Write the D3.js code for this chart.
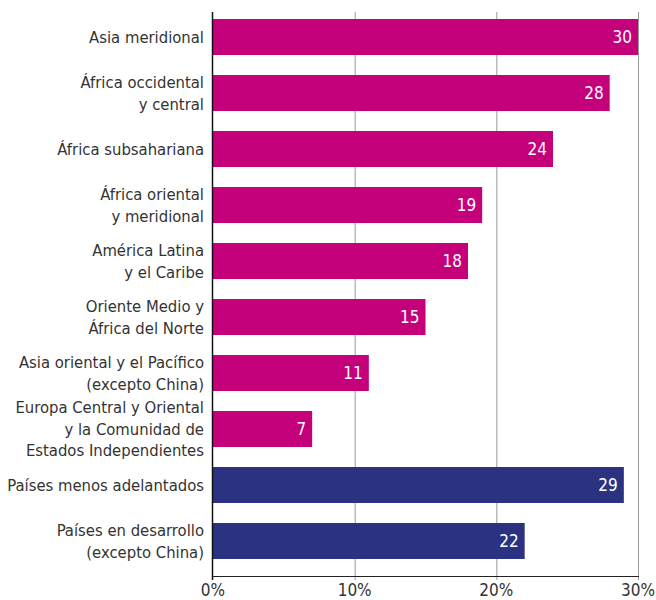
<!DOCTYPE html>
<html>
<head>
<meta charset="utf-8">
<script src="https://cdn.jsdelivr.net/npm/d3@7"></script>
<style>
body { margin: 0; background: #fff; }
text { font-family: "Liberation Sans Narrow", "DejaVu Sans Condensed", "Roboto", sans-serif; }
</style>
</head>
<body>
<svg id="chart" width="656" height="600"></svg>
<script>
var svg_w = 656;
var svg_h = 600;

// categories (lines of each label), values, and which are aggregates
var categories = [
    ["Asia meridional"],
    ["África occidental", "y central"],
    ["África subsahariana"],
    ["África oriental", "y meridional"],
    ["América Latina", "y el Caribe"],
    ["Oriente Medio y", "África del Norte"],
    ["Asia oriental y el Pacífico", "(excepto China)"],
    ["Europa Central y Oriental", "y la Comunidad de", "Estados Independientes"],
    ["Países menos adelantados"],
    ["Países en desarrollo", "(excepto China)"]
];
var values = [30, 28, 24, 19, 18, 15, 11, 7, 29, 22];
var groups = ["region", "region", "region", "region", "region", "region", "region", "region", "total", "total"];
var xTicks = [0, 10, 20, 30];

var colors = { region: "#c4007a", total: "#2b3282" };

function draw() {
    let svg = d3.select('#chart');
    let left = 213, right = 638, top = 12, bottom = 576;

    let x = d3.scaleLinear()
        .domain([0, 30])
        .range([left, right]);
    let pad = 20 / 56;
    let y = d3.scaleBand()
        .domain(d3.range(values.length))
        .range([9, 569])
        .paddingInner(pad)
        .paddingOuter(pad / 2);

    // gridlines
    svg.append('g')
        .selectAll('line')
        .data(xTicks.slice(1))
        .enter()
        .append('line')
        .attr('x1', (d) => x(d) + 0.5)
        .attr('x2', (d) => x(d) + 0.5)
        .attr('y1', top)
        .attr('y2', bottom + 4)
        .attr('stroke', '#999')
        .attr('stroke-width', 1);

    // bars
    let rows = values.map((v, i) => ({ i: i, v: v, g: groups[i], lab: categories[i] }));
    svg.append('g')
        .selectAll('rect')
        .data(rows)
        .enter()
        .append('rect')
        .attr('x', x(0))
        .attr('y', (d) => y(d.i))
        .attr('width', (d) => x(d.v) - x(0))
        .attr('height', y.bandwidth())
        .attr('fill', (d) => colors[d.g]);

    // value labels
    svg.append('g')
        .selectAll('text')
        .data(rows)
        .enter()
        .append('text')
        .attr('x', (d) => x(d.v) - 6)
        .attr('y', (d) => y(d.i) + y.bandwidth() / 2)
        .attr('dy', '0.36em')
        .attr('text-anchor', 'end')
        .attr('fill', '#fff')
        .attr('font-size', 17)
        .text((d) => d.v);

    // category labels
    let lineH = 21.5;
    let lg = svg.append('g')
        .selectAll('text')
        .data(rows)
        .enter()
        .append('text')
        .attr('text-anchor', 'end')
        .attr('fill', '#333')
        .attr('font-size', 16.5);
    lg.each(function(d) {
        let t = d3.select(this);
        let n = d.lab.length;
        let cy = y(d.i) + y.bandwidth() / 2;
        d.lab.forEach((line, k) => {
            t.append('tspan')
                .attr('x', 204)
                .attr('y', cy + (k - (n - 1) / 2) * lineH)
                .attr('dy', '0.36em')
                .text(line);
        });
    });

    // axes lines
    svg.append('line')
        .attr('x1', left).attr('x2', right + 1)
        .attr('y1', bottom + 0.5).attr('y2', bottom + 0.5)
        .attr('stroke', '#222').attr('stroke-width', 1.2);
    svg.append('line')
        .attr('x1', left - 0.5).attr('x2', left - 0.5)
        .attr('y1', top).attr('y2', bottom + 4)
        .attr('stroke', '#111').attr('stroke-width', 1.5);

    // x tick labels
    svg.append('g')
        .selectAll('text')
        .data(xTicks)
        .enter()
        .append('text')
        .attr('x', (d) => x(d))
        .attr('y', 596)
        .attr('text-anchor', 'middle')
        .attr('fill', '#333')
        .attr('font-size', 17)
        .text((d) => d + '%');
}

draw();
</script>
</body>
</html>
